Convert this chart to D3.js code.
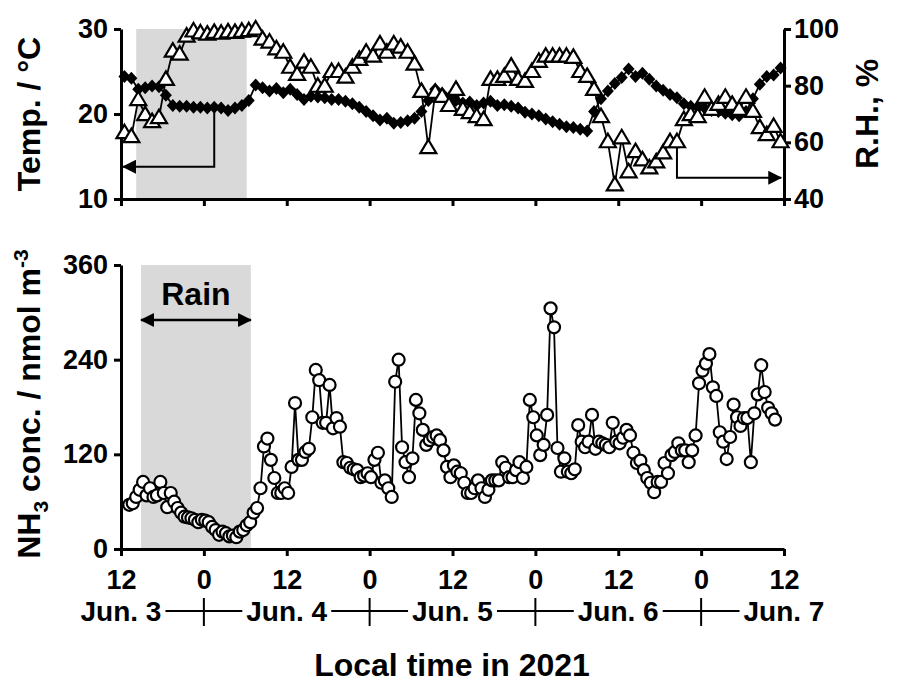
<!DOCTYPE html>
<html>
<head>
<meta charset="utf-8">
<script src="https://cdn.jsdelivr.net/npm/d3@7"></script>
<style>
body { margin: 0; background: #fff; }
text { font-family: "Liberation Sans", Arial, sans-serif; font-weight: bold; fill: #000; }
</style>
</head>
<body>
<svg id="chart" width="898" height="683"></svg>
<script>
// hourly means, t = hours after Jun. 3 12:00 (+0.5)
var temp = [24.4, 24.2, 22.9, 23.1, 23.3, 23.2, 22.2, 21.0, 20.9, 20.9,
  20.8, 20.8, 20.7, 20.8, 20.7, 20.4, 20.7, 21.0, 21.6, 23.4,
  23.1, 22.7, 23.0, 22.5, 22.9, 22.3, 21.7, 22.1, 22.0, 21.9,
  21.7, 21.7, 21.5, 21.2, 20.8, 20.3, 19.8, 19.3, 19.5, 18.9,
  19.0, 19.2, 19.5, 20.3, 21.6, 22.9, 22.4, 21.9, 21.6, 21.3,
  21.4, 21.0, 21.3, 21.5, 21.0, 21.1, 20.9, 20.7, 20.2, 20.0,
  19.8, 19.4, 19.1, 18.8, 18.5, 18.4, 18.2, 18.0, 20.3, 21.8,
  22.7, 23.6, 24.3, 25.3, 24.4, 24.8, 24.1, 23.3, 22.8, 22.3,
  21.9, 21.2, 20.9, 20.8, 20.7, 20.4, 20.3, 20.1, 19.9, 19.8,
  20.3, 21.8, 23.5, 24.4, 24.6, 25.4];

var rh = [63.4, 62.0, 75.1, 69.8, 67.3, 68.7, 82.2, 92.2, 91.1, 97.5,
  99.3, 98.6, 98.2, 98.8, 98.5, 99.0, 98.8, 99.2, 99.4, 100.0,
  96.4, 95.4, 93.0, 91.8, 86.5, 84.0, 88.3, 86.5, 79.8, 79.8,
  85.0, 85.0, 83.0, 86.5, 89.3, 91.8, 90.4, 94.7, 91.8, 94.7,
  93.6, 91.8, 87.6, 78.0, 58.1, 77.6, 76.2, 73.0, 78.7, 71.6,
  70.5, 69.1, 68.0, 82.2, 82.2, 83.3, 86.9, 82.2, 81.5, 85.0,
  88.6, 90.4, 90.4, 90.4, 90.4, 90.0, 85.0, 83.3, 78.7, 69.1,
  60.2, 45.0, 61.6, 49.6, 56.7, 53.8, 51.0, 53.1, 56.3, 60.2,
  60.2, 68.0, 69.8, 69.1, 75.9, 71.6, 73.4, 75.9, 73.4, 71.6,
  75.9, 70.9, 65.2, 62.7, 65.6, 60.2];

// half-hourly, first value at t = 1.2
var nh3 = [56, 58, 66, 75, 85, 68, 77, 66, 68, 85,
  71, 53, 71, 60, 52, 46, 41, 40, 39, 37,
  34, 37, 36, 34, 28, 24, 18, 22, 20, 16,
  17, 15, 22, 24, 30, 34, 46, 52, 77, 130,
  140, 113, 90, 71, 71, 77, 71, 104, 185, 113,
  113, 123, 127, 167, 227, 214, 160, 160, 208, 153,
  166, 155, 110, 109, 103, 101, 100, 91, 93, 96,
  91, 113, 122, 84, 87, 77, 66, 212, 240, 129,
  110, 91, 115, 189, 172, 151, 132, 138, 142, 144,
  138, 125, 104, 91, 106, 98, 96, 84, 71, 71,
  77, 87, 77, 66, 75, 87, 87, 87, 110, 103,
  91, 91, 100, 110, 90, 104, 189, 167, 144, 119,
  132, 170, 305, 281, 128, 98, 115, 98, 96, 101,
  157, 136, 129, 136, 170, 127, 136, 134, 132, 129,
  160, 136, 134, 141, 151, 144, 122, 109, 112, 100,
  90, 84, 72, 85, 85, 109, 96, 119, 123, 134,
  125, 125, 110, 125, 144, 210, 226, 235, 247, 205,
  194, 148, 136, 114, 142, 183, 167, 156, 166, 166,
  110, 172, 196, 233, 199, 179, 172, 164];

var hourTicks = [0, 12, 24, 36, 48, 60, 72, 84, 96];
var hourLabels = ["12", "0", "12", "0", "12", "0", "12", "0", "12"];
var dayLabels = ["Jun. 3", "Jun. 4", "Jun. 5", "Jun. 6", "Jun. 7"];
var rainTop = [2.2, 18.2];
var rainBottom = [2.9, 18.8];

var svg = d3.select("#chart");

var x = d3.scaleLinear().domain([0, 96]).range([121, 784]);
var yT = d3.scaleLinear().domain([10, 30]).range([199, 29]);
var yH = d3.scaleLinear().domain([40, 100]).range([199, 29]);
var yN = d3.scaleLinear().domain([0, 360]).range([549, 265]);

var defs = svg.append("defs");
defs.append("marker")
  .attr("id", "head")
  .attr("viewBox", "0 0 14 14")
  .attr("refX", 13).attr("refY", 7)
  .attr("markerWidth", 14).attr("markerHeight", 14)
  .attr("markerUnits", "userSpaceOnUse")
  .attr("orient", "auto-start-reverse")
  .append("path")
  .attr("d", "M0,0L14,7L0,14Z")
  .attr("fill", "#000");

// rain shading
svg.append("rect")
  .attr("x", x(rainTop[0])).attr("y", yT(30))
  .attr("width", x(rainTop[1]) - x(rainTop[0]))
  .attr("height", yT(10) - yT(30))
  .attr("fill", "#d9d9d9");
svg.append("rect")
  .attr("x", x(rainBottom[0])).attr("y", yN(360))
  .attr("width", x(rainBottom[1]) - x(rainBottom[0]))
  .attr("height", yN(0) - yN(360))
  .attr("fill", "#d9d9d9");

function styleAxis(g) {
  g.select(".domain").attr("stroke-width", 3);
  g.selectAll(".tick line").attr("stroke-width", 3);
  g.selectAll(".tick text").attr("font-size", 27).attr("font-family", null);
}

// axes
svg.append("g").attr("transform", "translate(0,199)")
  .call(d3.axisBottom(x).tickValues(hourTicks).tickFormat("").tickSize(7).tickSizeOuter(0))
  .call(styleAxis);
svg.append("g").attr("transform", "translate(121,0)")
  .call(d3.axisLeft(yT).tickValues([10, 20, 30]).tickSize(7).tickSizeOuter(0).tickPadding(6))
  .call(styleAxis);
svg.append("g").attr("transform", "translate(784,0)")
  .call(d3.axisRight(yH).tickValues([40, 60, 80, 100]).tickSize(7).tickSizeOuter(0).tickPadding(3))
  .call(styleAxis);

svg.append("g").attr("transform", "translate(0,549)")
  .call(d3.axisBottom(x).tickValues(hourTicks).tickFormat(function(d, i) { return hourLabels[i]; })
    .tickSize(7).tickSizeOuter(0).tickPadding(14))
  .call(styleAxis);
svg.append("g").attr("transform", "translate(121,0)")
  .call(d3.axisLeft(yN).tickValues([0, 120, 240, 360]).tickSize(7).tickSizeOuter(0).tickPadding(6))
  .call(styleAxis);

// arrows pointing at the axis each series belongs to
var ti = 13, hi = 80;
svg.append("path")
  .attr("d", "M" + x(ti + 0.5) + "," + yT(temp[ti]) + "V" + yT(13.8) + "H" + x(0.3))
  .attr("fill", "none").attr("stroke", "#000").attr("stroke-width", 2)
  .attr("marker-end", "url(#head)");
svg.append("path")
  .attr("d", "M" + x(hi + 0.5) + "," + yH(rh[hi]) + "V" + yH(47.5) + "H" + x(95.6))
  .attr("fill", "none").attr("stroke", "#000").attr("stroke-width", 2)
  .attr("marker-end", "url(#head)");

// temperature
var lineT = d3.line().x(function(d, i) { return x(i + 0.5); }).y(function(d) { return yT(d); });
svg.append("path").datum(temp)
  .attr("d", lineT).attr("fill", "none").attr("stroke", "#000").attr("stroke-width", 1.8);
svg.append("g").selectAll("path").data(temp).enter().append("path")
  .attr("transform", function(d, i) { return "translate(" + x(i + 0.5) + "," + yT(d) + ")"; })
  .attr("d", "M0,-6.5L6,0L0,6.5L-6,0Z")
  .attr("fill", "#000");

// relative humidity
var lineH = d3.line().x(function(d, i) { return x(i + 0.5); }).y(function(d) { return yH(d); });
svg.append("path").datum(rh)
  .attr("d", lineH).attr("fill", "none").attr("stroke", "#000").attr("stroke-width", 1.8);
svg.append("g").selectAll("path").data(rh).enter().append("path")
  .attr("transform", function(d, i) { return "translate(" + x(i + 0.5) + "," + yH(d) + ")"; })
  .attr("d", "M0,-8L8,5.5L-8,5.5Z")
  .attr("fill", "#fff").attr("stroke", "#000").attr("stroke-width", 2.2);

// NH3
var lineN = d3.line().x(function(d, i) { return x(1.2 + i * 0.5); }).y(function(d) { return yN(d); });
svg.append("path").datum(nh3)
  .attr("d", lineN).attr("fill", "none").attr("stroke", "#000").attr("stroke-width", 1.8);
svg.append("g").selectAll("circle").data(nh3).enter().append("circle")
  .attr("cx", function(d, i) { return x(1.2 + i * 0.5); })
  .attr("cy", function(d) { return yN(d); })
  .attr("r", 6)
  .attr("fill", "#fff").attr("stroke", "#000").attr("stroke-width", 2.2);

// rain label
var rainMid = (x(rainBottom[0]) + x(rainBottom[1])) / 2;
svg.append("text").attr("x", rainMid).attr("y", 305)
  .attr("text-anchor", "middle").attr("font-size", 32).text("Rain");
svg.append("line")
  .attr("x1", x(rainBottom[0])).attr("x2", x(rainBottom[1]))
  .attr("y1", 320).attr("y2", 320)
  .attr("stroke", "#000").attr("stroke-width", 2.5)
  .attr("marker-start", "url(#head)").attr("marker-end", "url(#head)");

// day row under the hour labels
var widths = [];
dayLabels.forEach(function(d, i) {
  var t = svg.append("text")
    .attr("x", x(i * 24)).attr("y", 621)
    .attr("text-anchor", "middle").attr("font-size", 28)
    .text(d);
  widths.push(t.node().getComputedTextLength());
});
for (var k = 0; k < dayLabels.length - 1; k++) {
  svg.append("line")
    .attr("x1", x(k * 24) + widths[k] / 2 + 4)
    .attr("x2", x((k + 1) * 24) - widths[k + 1] / 2 - 4)
    .attr("y1", 611).attr("y2", 611)
    .attr("stroke", "#000").attr("stroke-width", 2);
  svg.append("line")
    .attr("x1", x(k * 24 + 12)).attr("x2", x(k * 24 + 12))
    .attr("y1", 598).attr("y2", 626)
    .attr("stroke", "#000").attr("stroke-width", 2);
}

// axis titles
svg.append("text").attr("transform", "translate(40,114) rotate(-90)")
  .attr("text-anchor", "middle").attr("font-size", 32).text("Temp. / \u00B0C");
svg.append("text").attr("transform", "translate(878,114) rotate(-90)")
  .attr("text-anchor", "middle").attr("font-size", 32).text("R.H., %");

var nt = svg.append("text").attr("transform", "translate(40,404) rotate(-90)")
  .attr("text-anchor", "middle").attr("font-size", 32);
nt.append("tspan").text("NH");
nt.append("tspan").attr("font-size", 21).attr("dy", 8).text("3");
nt.append("tspan").attr("dy", -8).text(" conc. / nmol m");
nt.append("tspan").attr("font-size", 21).attr("dy", -12).text("-3");

svg.append("text").attr("x", 452).attr("y", 676)
  .attr("text-anchor", "middle").attr("font-size", 32).text("Local time in 2021");
</script>
</body>
</html>
